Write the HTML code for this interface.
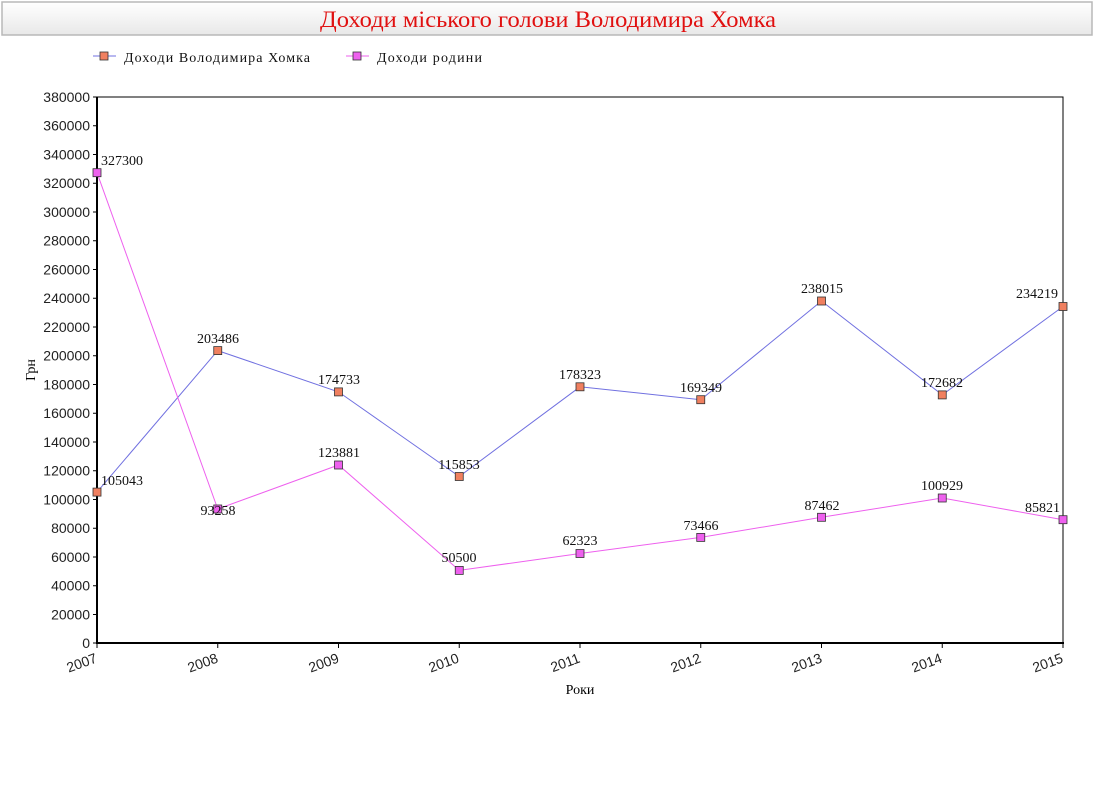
<!DOCTYPE html>
<html><head><meta charset="utf-8"><style>
body{margin:0;background:#fff;width:1095px;height:805px;overflow:hidden}
</style></head><body>
<svg width="1095" height="805" xmlns="http://www.w3.org/2000/svg">
<defs><linearGradient id="g" x1="0" y1="0" x2="0" y2="1"><stop offset="0" stop-color="#fff"/><stop offset="1" stop-color="#e8e8e8"/></linearGradient></defs>
<rect x="2" y="2" width="1090" height="33" fill="url(#g)" stroke="#b8b8b8" stroke-width="1.5"/>
<text x="548" y="27" text-anchor="middle" font-family="Liberation Serif, serif" font-size="23" textLength="456" lengthAdjust="spacingAndGlyphs" fill="#e01010">Доходи міського голови Володимира Хомка</text>
<g font-family="Liberation Serif, serif" font-size="14" fill="#111">
<line x1="93" y1="56" x2="116" y2="56" stroke="#7070e0"/><rect x="100" y="52" width="8" height="8" fill="#f08060" stroke="#333" stroke-width="0.8"/>
<text x="124" y="62" textLength="186" lengthAdjust="spacing">Доходи Володимира Хомка</text>
<line x1="346" y1="56" x2="369" y2="56" stroke="#ee60ee"/><rect x="353" y="52" width="8" height="8" fill="#ee60ee" stroke="#333" stroke-width="0.8"/>
<text x="377" y="62" textLength="105" lengthAdjust="spacing">Доходи родини</text>
</g>
<rect x="97" y="97" width="966" height="546" fill="none" stroke="#000" stroke-width="1"/>
<line x1="97" y1="97" x2="97" y2="644" stroke="#000" stroke-width="2"/>
<line x1="96" y1="643" x2="1064" y2="643" stroke="#000" stroke-width="2"/>
<g font-family="Liberation Sans, sans-serif" font-size="14" fill="#222" text-anchor="end">
<text x="90" y="102">380000</text><text x="90" y="130.7">360000</text><text x="90" y="159.5">340000</text><text x="90" y="188.2">320000</text><text x="90" y="217">300000</text><text x="90" y="245.7">280000</text><text x="90" y="274.5">260000</text><text x="90" y="303.2">240000</text><text x="90" y="332">220000</text><text x="90" y="360.7">200000</text><text x="90" y="389.5">180000</text><text x="90" y="418.2">160000</text><text x="90" y="447">140000</text><text x="90" y="475.7">120000</text><text x="90" y="504.5">100000</text><text x="90" y="533.2">80000</text><text x="90" y="562">60000</text><text x="90" y="590.7">40000</text><text x="90" y="619.5">20000</text><text x="90" y="648">0</text>
</g>
<g stroke="#000" stroke-width="1">
<path d="M93 97h4M93 125.7h4M93 154.5h4M93 183.2h4M93 212h4M93 240.7h4M93 269.5h4M93 298.2h4M93 327h4M93 355.7h4M93 384.5h4M93 413.2h4M93 442h4M93 470.7h4M93 499.5h4M93 528.2h4M93 557h4M93 585.7h4M93 614.5h4M93 643h4"/>
<path d="M97 643v5M217.75 643v5M338.5 643v5M459.25 643v5M580 643v5M700.75 643v5M821.5 643v5M942.25 643v5M1063 643v5"/>
</g>
<g font-family="Liberation Sans, sans-serif" font-size="14" fill="#222" text-anchor="end">
<text transform="translate(98,662) rotate(-20)">2007</text>
<text transform="translate(219,662) rotate(-20)">2008</text>
<text transform="translate(340,662) rotate(-20)">2009</text>
<text transform="translate(460,662) rotate(-20)">2010</text>
<text transform="translate(581,662) rotate(-20)">2011</text>
<text transform="translate(702,662) rotate(-20)">2012</text>
<text transform="translate(823,662) rotate(-20)">2013</text>
<text transform="translate(943,662) rotate(-20)">2014</text>
<text transform="translate(1064,662) rotate(-20)">2015</text>
</g>
<text x="580" y="694" text-anchor="middle" font-family="Liberation Serif, serif" font-size="14">Роки</text>
<text transform="translate(35,370) rotate(-90)" text-anchor="middle" font-family="Liberation Serif, serif" font-size="14">Грн</text>
<polyline fill="none" stroke="#7070e0" stroke-width="1" points="97,492.1 217.75,350.6 338.5,391.9 459.25,476.5 580,386.8 700.75,399.7 821.5,301 942.25,394.9 1063,306.5"/>
<polyline fill="none" stroke="#ee60ee" stroke-width="1" points="97,172.7 217.75,509 338.5,465 459.25,570.4 580,553.5 700.75,537.4 821.5,517.3 942.25,498 1063,519.7"/>
<g fill="#f08060" stroke="#333" stroke-width="0.8">
<rect x="93" y="488.1" width="8" height="8"/><rect x="213.75" y="346.6" width="8" height="8"/><rect x="334.5" y="387.9" width="8" height="8"/><rect x="455.25" y="472.5" width="8" height="8"/><rect x="576" y="382.8" width="8" height="8"/><rect x="696.75" y="395.7" width="8" height="8"/><rect x="817.5" y="297" width="8" height="8"/><rect x="938.25" y="390.9" width="8" height="8"/><rect x="1059" y="302.5" width="8" height="8"/>
</g>
<g fill="#ee60ee" stroke="#333" stroke-width="0.8">
<rect x="93" y="168.7" width="8" height="8"/><rect x="213.75" y="505" width="8" height="8"/><rect x="334.5" y="461" width="8" height="8"/><rect x="455.25" y="566.4" width="8" height="8"/><rect x="576" y="549.5" width="8" height="8"/><rect x="696.75" y="533.4" width="8" height="8"/><rect x="817.5" y="513.3" width="8" height="8"/><rect x="938.25" y="494" width="8" height="8"/><rect x="1059" y="515.7" width="8" height="8"/>
</g>
<g font-family="Liberation Serif, serif" font-size="14" fill="#111" text-anchor="middle">
<text x="101" y="485" text-anchor="start">105043</text>
<text x="218" y="343">203486</text><text x="339" y="384">174733</text><text x="459" y="469">115853</text><text x="580" y="379">178323</text><text x="701" y="392">169349</text><text x="822" y="293">238015</text><text x="942" y="387">172682</text>
<text x="1058" y="298" text-anchor="end">234219</text>
<text x="101" y="165" text-anchor="start">327300</text>
<text x="218" y="515">93258</text><text x="339" y="457">123881</text><text x="459" y="562">50500</text><text x="580" y="545">62323</text><text x="701" y="530">73466</text><text x="822" y="510">87462</text><text x="942" y="490">100929</text>
<text x="1060" y="512" text-anchor="end">85821</text>
</g>
</svg>
</body></html>
